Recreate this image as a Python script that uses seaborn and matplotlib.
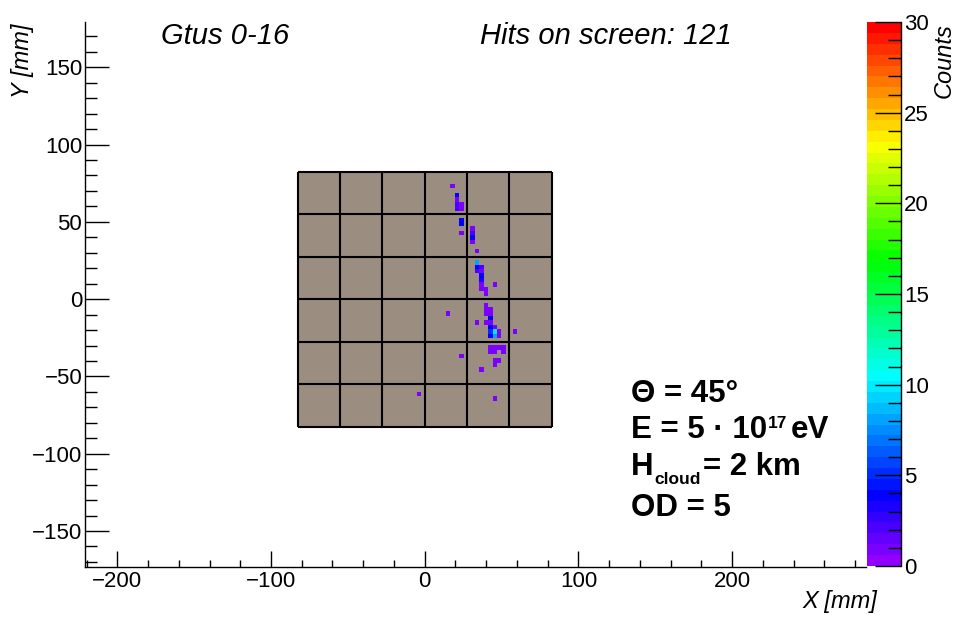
import colorsys

import numpy as np
import pandas as pd
import matplotlib
matplotlib.use("Agg")
import matplotlib.pyplot as plt
from matplotlib.colors import ListedColormap
from matplotlib.patches import Rectangle
from matplotlib.ticker import MultipleLocator
import seaborn as sns

# Hit pixels on the focal surface: column (from left), row (from top), counts
pix_col = [29, 30, 30, 30, 31, 30, 31,
           31, 31, 31, 32, 32, 32, 32, 33,
           33, 33, 34, 33, 34, 34, 34, 34, 34, 35, 35, 37,
           28, 35, 35, 36, 35, 36, 36, 33, 35, 36, 36, 37, 36, 37, 38, 36, 37, 38, 40,
           36, 37, 38, 39, 36, 37, 39, 37, 38, 37, 34, 31,
           23, 37]
pix_row = [2, 4, 5, 6, 6, 7, 7,
           8, 9, 11, 10, 11, 12, 13, 15,
           16, 17, 17, 18, 18, 19, 20, 21, 22, 22, 23, 21,
           26, 24, 25, 25, 26, 26, 27, 28, 28, 28, 29, 29, 30, 30, 30, 31, 31, 31, 30,
           32, 32, 32, 32, 33, 33, 33, 35, 35, 36, 37, 34,
           41, 42]
hit_counts = [1, 4, 1, 2, 1, 2, 1,
              4, 4, 1, 1, 2, 4, 1, 1,
              8, 4, 2, 2, 1, 4, 3, 1, 1, 1, 1, 1,
              1, 1, 1, 1, 1, 1, 4, 1, 1, 1, 4, 1, 5, 10, 1, 4, 8, 1, 1,
              1, 1, 1, 1, 1, 1, 1, 1, 1, 1, 1, 1,
              1, 1]

title_left = "Gtus 0-16"
title_right = "Hits on screen: 121"
x_title = "X [mm]"
y_title = "Y [mm]"
z_title = "Counts"
z_max = 30

# Detector layout: 6 x 6 MAPMTs with 8 x 8 pixels each
n_pmt = 6
pmt_size = 27.5
n_pix = 8
pix_size = 2.88
half = n_pmt * pmt_size / 2
gap = (pmt_size - n_pix * pix_size) / 2


def pixel_center(idx):
    idx = np.asarray(idx)
    return (idx // n_pix) * pmt_size + gap + (idx % n_pix + 0.5) * pix_size


hits = pd.DataFrame({
    "x": -half + pixel_center(pix_col),
    "y": half - pixel_center(pix_row),
    "counts": hit_counts,
})

# Bin edges follow the pixels, with empty bins over the MAPMT borders
edges = []
for k in range(n_pmt):
    start = -half + k * pmt_size
    edges.append(start)
    edges.extend(start + gap + np.arange(n_pix + 1) * pix_size)
edges.append(half)
edges = np.array(edges)

# Violet-to-red rainbow, 50 levels
pal = [colorsys.hls_to_rgb((280 - (i + 1) * 280 / 50) / 360, 0.5, 1.0) for i in range(49)]
pal.append((1.0, 0.0, 0.0))
cmap = ListedColormap(pal)

sns.set_style("ticks")
plt.rcParams["font.family"] = ["Liberation Sans", "DejaVu Sans"]
plt.rcParams["axes.unicode_minus"] = True
plt.rcParams["text.color"] = "black"
plt.rcParams["xtick.color"] = "black"
plt.rcParams["ytick.color"] = "black"
plt.rcParams["axes.edgecolor"] = "black"

W, H = 954, 622
fig = plt.figure(figsize=(W / 100, H / 100), dpi=100)


def fx(px):
    return px / W


def fy(py):
    return 1 - py / H


ax = fig.add_axes([fx(85), fy(567), fx(866) - fx(85), fy(22) - fy(567)])
cax = fig.add_axes([fx(867), fy(566), fx(901) - fx(867), fy(22) - fy(566)])

ax.add_patch(Rectangle((-half, -half), 2 * half, 2 * half,
                       facecolor="#9b8d80", edgecolor="none", zorder=1))

sns.histplot(data=hits, x="x", y="y", weights="counts", bins=[edges, edges],
             cmap=cmap, vmin=0, vmax=z_max, cbar=True, cbar_ax=cax, ax=ax,
             zorder=2)

lines = -half + np.arange(n_pmt + 1) * pmt_size
ax.vlines(lines, -half, half, colors="black", linewidth=1.5, zorder=3)
ax.hlines(lines, -half, half, colors="black", linewidth=1.5, zorder=3)

ax.set_axisbelow(False)
ax.set_xlim(-221.0, 287.1)
ax.set_ylim(-173.3, 179.3)
ax.set_xlabel("")
ax.set_ylabel("")
for side in ("top", "right"):
    ax.spines[side].set_visible(False)
for side in ("left", "bottom"):
    ax.spines[side].set_color("black")
    ax.spines[side].set_linewidth(1.0)

ax.xaxis.set_major_locator(MultipleLocator(100))
ax.xaxis.set_minor_locator(MultipleLocator(20))
ax.yaxis.set_major_locator(MultipleLocator(50))
ax.yaxis.set_minor_locator(MultipleLocator(10))
ax.tick_params(axis="x", which="major", direction="in", length=11.3, width=1,
               pad=3, labelsize=16, color="black", bottom=True, top=False)
ax.tick_params(axis="x", which="minor", direction="in", length=5.3, width=1,
               color="black", bottom=True, top=False)
ax.tick_params(axis="y", which="major", direction="in", length=17, width=1,
               pad=2, labelsize=16, color="black", left=True, right=False)
ax.tick_params(axis="y", which="minor", direction="in", length=8.6, width=1,
               color="black", left=True, right=False)

# Colour scale
cax.set_axisbelow(False)
cax.yaxis.set_major_locator(MultipleLocator(5))
cax.yaxis.set_minor_locator(MultipleLocator(1))
cax.set_ylim(0, z_max)
cax.tick_params(axis="y", which="major", direction="in", length=18.5, width=1,
                right=True, left=False, labelright=True, labelleft=False,
                pad=2, labelsize=16, color="black")
cax.tick_params(axis="y", which="minor", direction="in", length=9.5, width=1,
                right=True, left=False, color="black")
for sp in cax.spines.values():
    sp.set_visible(False)
cax.plot([1, 1], [0, 1], transform=cax.transAxes, color="black", lw=1.0,
         clip_on=False, zorder=5)

# Titles and axis titles
fig.text(fx(161), fy(44), title_left, fontsize=21, fontstyle="italic",
         ha="left", va="baseline")
fig.text(fx(480), fy(44), title_right, fontsize=21, fontstyle="italic",
         ha="left", va="baseline")
fig.text(fx(877), fy(608), x_title, fontsize=17, fontstyle="italic",
         ha="right", va="baseline")
fig.text(fx(23), fy(23), y_title, fontsize=17, fontstyle="italic",
         ha="center", va="top", rotation=90)
fig.text(fx(944), fy(23), z_title, fontsize=17, fontstyle="italic",
         ha="center", va="top", rotation=90)

# Simulation parameters
renderer = fig.canvas.get_renderer()


def place_run(x0, pieces):
    x = x0
    for text, size, base, space in pieces:
        t = fig.text(fx(x + space), fy(base), text, fontsize=size,
                     fontweight="bold", ha="left", va="baseline")
        x = x + space + t.get_window_extent(renderer).width


big = 22.5
small = 12.5
place_run(631, [("\u0398 = 45\u00b0", big, 401.7, 0)])
place_run(631, [("E = 5 \u00b7 10", big, 438.3, 0),
                ("17", small, 428.5, 1),
                ("eV", big, 438.3, 3)])
place_run(631, [("H", big, 475, 0),
                ("cloud", small, 484, 1),
                ("= 2 km", big, 475, 2)])
place_run(631, [("OD = 5", big, 516, 0)])

fig.savefig("out.png", dpi=100)
